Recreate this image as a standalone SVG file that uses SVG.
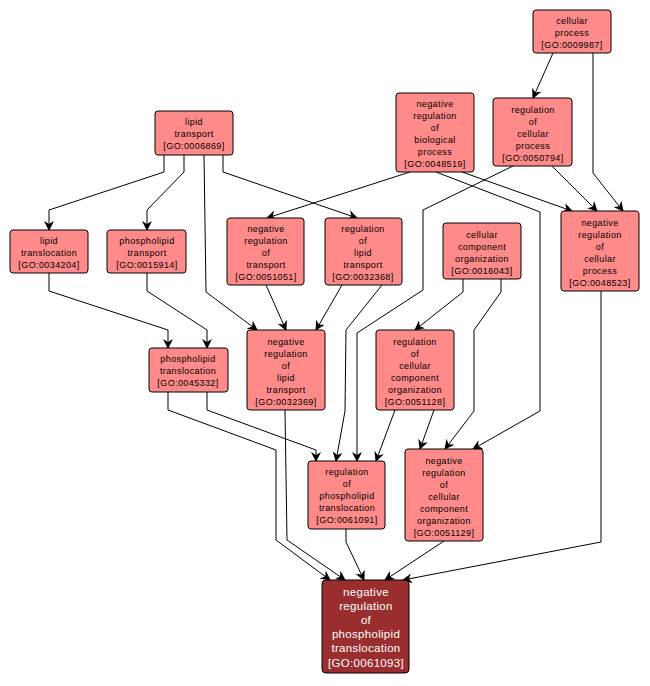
<svg xmlns="http://www.w3.org/2000/svg" width="650" height="686" viewBox="0 0 650 686">
<style>
.n rect{fill:#ff8a8a;stroke:#000;stroke-width:1}
.n text{font-family:"Liberation Sans",Arial,sans-serif;font-size:9px;text-anchor:middle;fill:#000;letter-spacing:0.4px}
.t rect{fill:#9a2e2e;stroke:#000;stroke-width:1}
.t text{font-family:"Liberation Sans",Arial,sans-serif;font-size:11.5px;text-anchor:middle;fill:#fff;letter-spacing:0.3px}
#edges polyline{fill:none;stroke:#000;stroke-width:1;marker-end:url(#a)}
</style>
<defs><marker id="a" markerWidth="10" markerHeight="10" refX="9" refY="5" orient="auto" markerUnits="userSpaceOnUse"><path d="M0,0 L10,5 L0,10 L3,5 z" fill="#000"/></marker></defs>
<rect width="650" height="686" fill="#fff"/>
<g id="edges">
<polyline points="164,155 164,172 49,210 49,230"/>
<polyline points="184,155 184,172 147,210 147,230"/>
<polyline points="204,155 206,292 257,330"/>
<polyline points="223,155 223,172 357,218"/>
<polyline points="410,172 267,218"/>
<polyline points="462,172 572,211"/>
<polyline points="436,172 540,212 540,411 473,449"/>
<polyline points="552,166 597,211"/>
<polyline points="513,166 423,210 423,290 357,333 357,461"/>
<polyline points="342,285 316,330"/>
<polyline points="382,285 346,330 345,411 336,461"/>
<polyline points="553,53 533,98"/>
<polyline points="593,53 593,173 623,211"/>
<polyline points="463,279 463,292 415,330"/>
<polyline points="501,279 501,292 474,330 474,411 445,449"/>
<polyline points="395,410 376,461"/>
<polyline points="434,410 420,449"/>
<polyline points="207,392 207,410 316,450 316,461"/>
<polyline points="168,392 168,410 276,450 276,540 330,580"/>
<polyline points="285,410 287,540 345,580"/>
<polyline points="346,529 346,542 364,580"/>
<polyline points="444,541 385,580"/>
<polyline points="601,291 601,542 403,580"/>
<polyline points="49,273 49,291 168,330 168,348"/>
<polyline points="147,273 147,291 207,330 207,348"/>
<polyline points="266,285 286,330"/>
</g>
<g id="n9987" class="n"><rect x="533" y="10" width="78" height="43" rx="3"/><text x="572" y="24">cellular</text><text x="572" y="36">process</text><text x="572" y="48">[GO:0009987]</text></g>
<g id="n6869" class="n"><rect x="155" y="111" width="78" height="44" rx="3"/><text x="194" y="125">lipid</text><text x="194" y="137">transport</text><text x="194" y="149">[GO:0006869]</text></g>
<g id="n48519" class="n"><rect x="396" y="93" width="78" height="79" rx="3"/><text x="435" y="107">negative</text><text x="435" y="119">regulation</text><text x="435" y="131">of</text><text x="435" y="143">biological</text><text x="435" y="155">process</text><text x="435" y="167">[GO:0048519]</text></g>
<g id="n50794" class="n"><rect x="493" y="98" width="79" height="68" rx="3"/><text x="533" y="113">regulation</text><text x="533" y="125">of</text><text x="533" y="137">cellular</text><text x="533" y="149">process</text><text x="533" y="161">[GO:0050794]</text></g>
<g id="n34204" class="n"><rect x="10" y="230" width="78" height="43" rx="3"/><text x="49" y="244">lipid</text><text x="49" y="256">translocation</text><text x="49" y="268">[GO:0034204]</text></g>
<g id="n15914" class="n"><rect x="107" y="230" width="79" height="43" rx="3"/><text x="147" y="244">phospholipid</text><text x="147" y="256">transport</text><text x="147" y="268">[GO:0015914]</text></g>
<g id="n51051" class="n"><rect x="227" y="218" width="77" height="67" rx="3"/><text x="266" y="232">negative</text><text x="266" y="244">regulation</text><text x="266" y="256">of</text><text x="266" y="268">transport</text><text x="266" y="280">[GO:0051051]</text></g>
<g id="n32368" class="n"><rect x="325" y="218" width="77" height="67" rx="3"/><text x="363" y="232">regulation</text><text x="363" y="244">of</text><text x="363" y="256">lipid</text><text x="363" y="268">transport</text><text x="363" y="280">[GO:0032368]</text></g>
<g id="n16043" class="n"><rect x="443" y="223" width="78" height="56" rx="3"/><text x="482" y="238">cellular</text><text x="482" y="250">component</text><text x="482" y="262">organization</text><text x="482" y="274">[GO:0016043]</text></g>
<g id="n48523" class="n"><rect x="561" y="211" width="78" height="80" rx="3"/><text x="600" y="226">negative</text><text x="600" y="238">regulation</text><text x="600" y="250">of</text><text x="600" y="262">cellular</text><text x="600" y="274">process</text><text x="600" y="286">[GO:0048523]</text></g>
<g id="n45332" class="n"><rect x="149" y="348" width="79" height="44" rx="3"/><text x="188" y="362">phospholipid</text><text x="188" y="374">translocation</text><text x="188" y="386">[GO:0045332]</text></g>
<g id="n32369" class="n"><rect x="247" y="330" width="78" height="80" rx="3"/><text x="286" y="345">negative</text><text x="286" y="357">regulation</text><text x="286" y="369">of</text><text x="286" y="381">lipid</text><text x="286" y="393">transport</text><text x="286" y="405">[GO:0032369]</text></g>
<g id="n51128" class="n"><rect x="376" y="330" width="78" height="80" rx="3"/><text x="415" y="345">regulation</text><text x="415" y="357">of</text><text x="415" y="369">cellular</text><text x="415" y="381">component</text><text x="415" y="393">organization</text><text x="415" y="405">[GO:0051128]</text></g>
<g id="n61091" class="n"><rect x="308" y="461" width="77" height="68" rx="3"/><text x="347" y="475">regulation</text><text x="347" y="487">of</text><text x="347" y="499">phospholipid</text><text x="347" y="511">translocation</text><text x="347" y="523">[GO:0061091]</text></g>
<g id="n51129" class="n"><rect x="405" y="449" width="78" height="92" rx="3"/><text x="444" y="464">negative</text><text x="444" y="476">regulation</text><text x="444" y="488">of</text><text x="444" y="500">cellular</text><text x="444" y="512">component</text><text x="444" y="524">organization</text><text x="444" y="536">[GO:0051129]</text></g>
<g id="n61093" class="t"><rect x="322" y="580" width="87" height="93" rx="4"/><text x="366" y="596">negative</text><text x="366" y="610">regulation</text><text x="366" y="624">of</text><text x="366" y="638">phospholipid</text><text x="366" y="652">translocation</text><text x="366" y="667">[GO:0061093]</text></g>
</svg>
